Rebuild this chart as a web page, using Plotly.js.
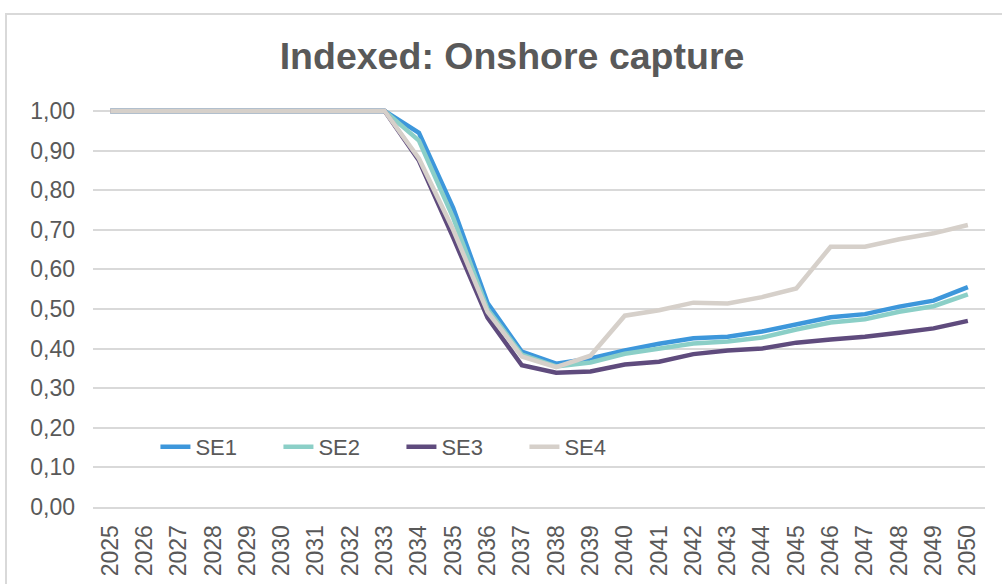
<!DOCTYPE html>
<html>
<head>
<meta charset="utf-8">
<script src="https://cdn.plot.ly/plotly-3.0.1.min.js"></script>
<style>
  html, body { margin: 0; padding: 0; background: #fff; }
  #frame { position: absolute; left: 5px; top: 13px; width: 1100px; height: 700px;
           border-left: 2px solid #D9D9D9; border-top: 2px solid #D9D9D9; }
  #chart { position: absolute; left: 0; top: 0; width: 1002px; height: 584px; }
</style>
</head>
<body>
<div id="frame"></div>
<div id="chart"></div>
<script>
const years = ["2025","2026","2027","2028","2029","2030","2031","2032","2033","2034","2035","2036","2037",
               "2038","2039","2040","2041","2042","2043","2044","2045","2046","2047","2048","2049","2050"];
const se1 = [1,1,1,1,1,1,1,1,1, 0.945,0.755,0.515,0.392,0.362,0.375,0.395,0.412,0.426,0.430,0.443,0.462,0.479,0.487,0.506,0.521,0.555];
const se2 = [1,1,1,1,1,1,1,1,1, 0.925,0.730,0.500,0.385,0.355,0.365,0.387,0.400,0.413,0.418,0.428,0.448,0.466,0.474,0.493,0.507,0.537];
const se3 = [1,1,1,1,1,1,1,1,1, 0.875,0.680,0.478,0.358,0.339,0.342,0.360,0.367,0.386,0.395,0.400,0.415,0.423,0.430,0.440,0.451,0.470];
const se4 = [1,1,1,1,1,1,1,1,1, 0.880,0.700,0.493,0.380,0.353,0.382,0.483,0.497,0.516,0.514,0.530,0.552,0.657,0.657,0.676,0.691,0.712];
const seriesNames = ["SE1","SE2","SE3","SE4"];
const seriesColors = ["#3D97DB","#8BCFC7","#5F4B7D","#D6D0CA"];
const yTicks = [0,0.1,0.2,0.3,0.4,0.5,0.6,0.7,0.8,0.9,1.0];

const allSeries = [se1, se2, se3, se4];
const traces = allSeries.map((vals, i) => ({
  type: 'scatter', mode: 'lines', x: years, y: vals, name: seriesNames[i],
  line: { color: seriesColors[i], width: 4.5 }
}));

const textColor = '#595959';
const layout = {
  width: 1002, height: 584,
  paper_bgcolor: 'rgba(0,0,0,0)', plot_bgcolor: 'rgba(0,0,0,0)',
  margin: { l: 93, r: 17, t: 107, b: 77 },
  separators: ', ',
  font: { family: 'Liberation Sans, Arial, sans-serif', color: textColor },
  title: { text: 'Indexed: Onshore capture', x: 0.511, xanchor: 'center', y: 0.904, yanchor: 'middle',
           xref: 'container', yref: 'container',
           font: { family: 'Liberation Sans, Arial, sans-serif', size: 37.5, color: textColor, weight: 'bold' } },
  xaxis: {
    type: 'category', range: [-0.5, 25.5], tickangle: -90,
    tickfont: { size: 23, color: textColor }, ticklabelstandoff: 7,
    showgrid: false, showline: true, linecolor: '#D9D9D9', linewidth: 2,
    ticks: '', ticklen: 0, automargin: false
  },
  yaxis: {
    range: [0, 1.01], tickvals: yTicks, tickformat: '.2f',
    tickfont: { size: 23, color: textColor }, ticklabelstandoff: 17,
    showgrid: true, gridcolor: '#D9D9D9', gridwidth: 2, zeroline: false,
    showline: false, ticks: '', automargin: false
  },
  showlegend: true,
  legend: {
    orientation: 'h', x: 0.070, xanchor: 'left', y: 0.15, yanchor: 'middle',
    font: { size: 22, color: textColor }, bgcolor: 'rgba(0,0,0,0)',
    entrywidth: 78, entrywidthmode: 'pixels', traceorder: 'normal'
  }
};

Plotly.newPlot('chart', traces, layout, { displayModeBar: false, staticPlot: true });
</script>
</body>
</html>
